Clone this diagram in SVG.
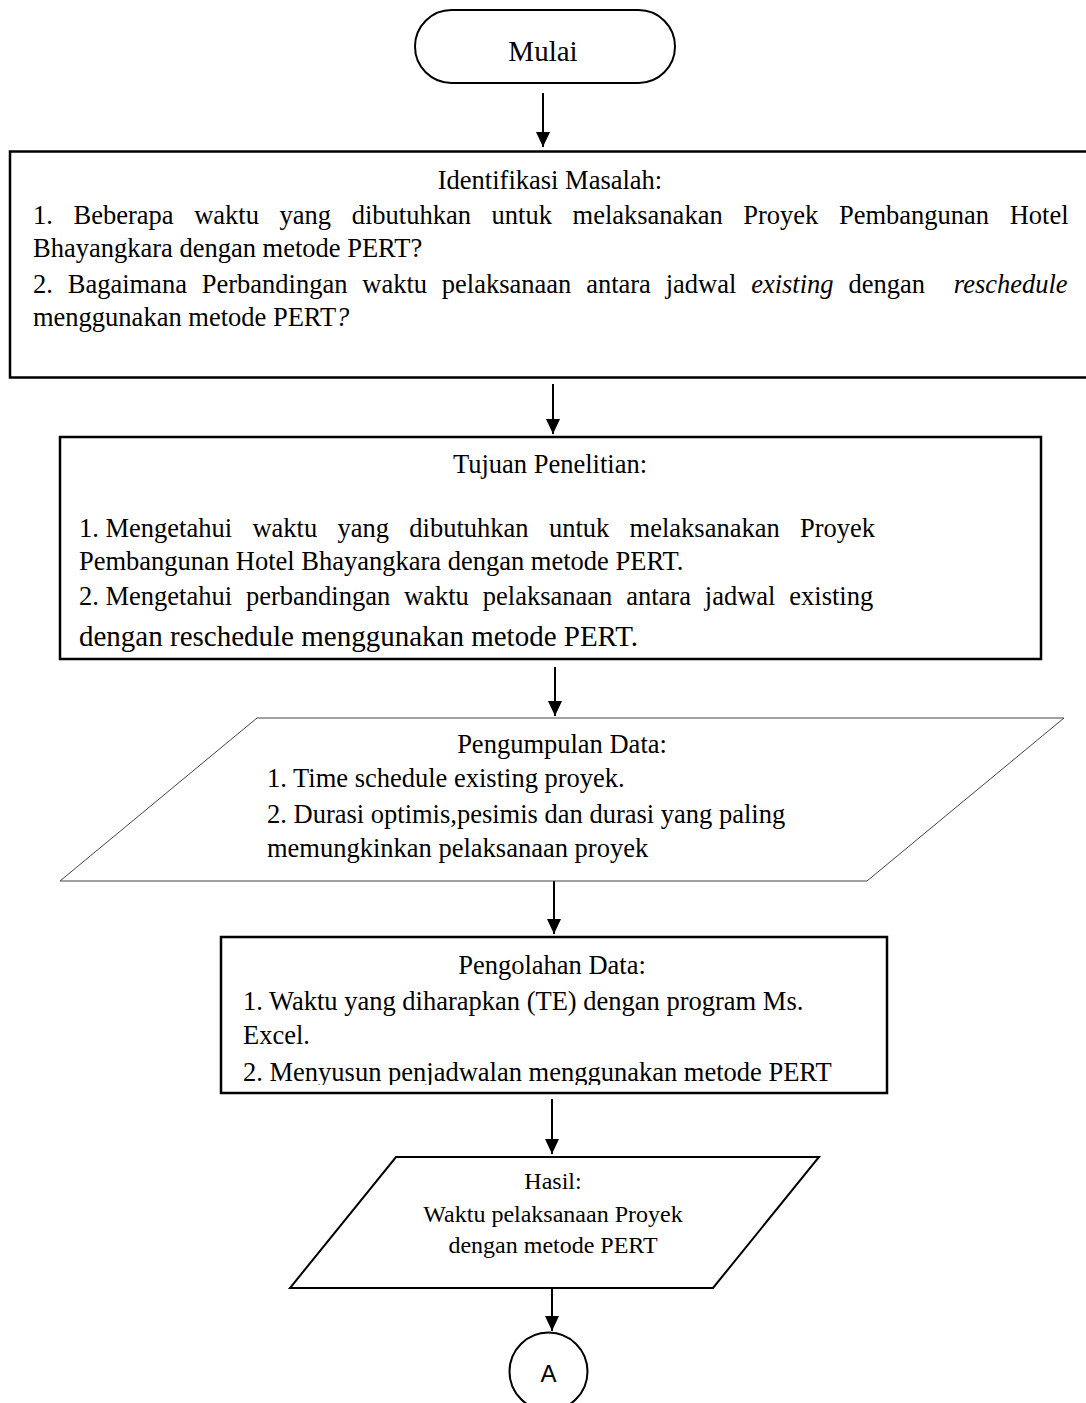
<svg xmlns="http://www.w3.org/2000/svg" width="1086" height="1403" viewBox="0 0 1086 1403">
  <style>
    .t { font-family: "Liberation Serif", "Times New Roman", serif; font-size: 26.5px; fill: #000; }
    .c { text-anchor: middle; }
    .i { font-style: italic; }
    .box { fill: #fff; stroke: #000; stroke-width: 2.5; }
    .thin { fill: #fff; stroke: #444; stroke-width: 1; }
    .med { fill: #fff; stroke: #000; stroke-width: 2; }
    .conn line { stroke: #000; stroke-width: 2; marker-end: url(#arrow); }
  </style>
  <defs>
    <!-- filled arrowhead, drawn pointing along the line direction -->
    <marker id="arrow" markerUnits="userSpaceOnUse" markerWidth="15" markerHeight="14" viewBox="0 0 15 14" refX="15" refY="7" orient="auto">
      <path d="M0,0 L15,7 L0,14 Z" fill="#000"/>
    </marker>
    <clipPath id="clipOlah">
      <rect x="221" y="937" width="666" height="148"/>
    </clipPath>
  </defs>

  <rect width="1086" height="1403" fill="#fff"/>

  <!-- connectors -->
  <g id="connectors" class="conn">
    <line x1="543" y1="93" x2="543" y2="147"/>
    <line x1="553" y1="384" x2="553" y2="434"/>
    <line x1="555" y1="667" x2="555" y2="716"/>
    <line x1="554" y1="881" x2="554" y2="934"/>
    <line x1="552" y1="1099" x2="552" y2="1154"/>
    <line x1="552" y1="1288" x2="552" y2="1331"/>
  </g>

  <!-- start terminal -->
  <g id="mulai">
    <rect x="415" y="10" width="260" height="73" rx="36.5" ry="36.5" class="med"/>
    <text x="543" y="61" class="t c" style="font-size:29px">Mulai</text>
  </g>

  <!-- problem identification -->
  <g id="identifikasi">
    <rect x="10" y="151.5" width="1090" height="226" class="box"/>
    <text x="550" y="189" class="t c">Identifikasi Masalah:</text>
    <text x="33" y="224" class="t" style="word-spacing:14px">1. Beberapa waktu yang dibutuhkan untuk melaksanakan Proyek Pembangunan Hotel</text>
    <text x="33" y="257" class="t">Bhayangkara dengan metode PERT?</text>
    <text x="33" y="293" class="t" style="word-spacing:8.2px">2. Bagaimana Perbandingan waktu pelaksanaan antara jadwal <tspan class="i">existing</tspan> dengan <tspan class="i" dx="14">reschedule</tspan></text>
    <text x="33" y="326" class="t">menggunakan metode PERT<tspan class="i">?</tspan></text>
  </g>

  <!-- research objectives -->
  <g id="tujuan">
    <rect x="60" y="437" width="981" height="222" class="box"/>
    <text x="550" y="473" class="t c">Tujuan Penelitian:</text>
    <text y="537" class="t"><tspan x="79">1. Mengetahui</tspan><tspan x="252.4">waktu</tspan><tspan x="337.5">yang</tspan><tspan x="409.3">dibutuhkan</tspan><tspan x="548.9">untuk</tspan><tspan x="629.6">melaksanakan</tspan><tspan x="800">Proyek</tspan></text>
    <text x="79" y="570" class="t">Pembangunan Hotel Bhayangkara dengan metode PERT.</text>
    <text y="605" class="t"><tspan x="79">2. Mengetahui</tspan><tspan x="246">perbandingan</tspan><tspan x="404.1">waktu</tspan><tspan x="482.8">pelaksanaan</tspan><tspan x="626.2">antara</tspan><tspan x="704.8">jadwal</tspan><tspan x="789.3">existing</tspan></text>
    <text x="79" y="646" class="t" style="font-size:29px">dengan reschedule menggunakan metode PERT.</text>
  </g>

  <!-- data collection (input) -->
  <g id="pengumpulan">
    <polygon points="257,718 1064,718 867,881 60,881" class="thin"/>
    <text x="562" y="753" class="t c">Pengumpulan Data:</text>
    <text x="267" y="787" class="t">1. Time schedule existing proyek.</text>
    <text x="267" y="823" class="t">2. Durasi optimis,pesimis dan durasi yang paling</text>
    <text x="267" y="857" class="t">memungkinkan pelaksanaan proyek</text>
  </g>

  <!-- data processing -->
  <g id="pengolahan">
    <rect x="221" y="937" width="666" height="156" class="box"/>
    <text x="552" y="974" class="t c">Pengolahan Data:</text>
    <text x="243" y="1010" class="t">1. Waktu yang diharapkan (TE) dengan program Ms.</text>
    <text x="243" y="1044" class="t">Excel.</text>
    <text x="243" y="1081" class="t" clip-path="url(#clipOlah)">2. Menyusun penjadwalan menggunakan metode PERT</text>
  </g>

  <!-- result (output) -->
  <g id="hasil">
    <polygon points="396,1157 819,1157 713,1288 290,1288" class="med"/>
    <text x="553" y="1189" class="t c" style="font-size:24px">Hasil:</text>
    <text x="553" y="1222" class="t c" style="font-size:24px">Waktu pelaksanaan Proyek</text>
    <text x="553" y="1253" class="t c" style="font-size:24px">dengan metode PERT</text>
  </g>

  <!-- off-page connector -->
  <g id="konektor-a">
    <circle cx="548.5" cy="1371.5" r="39" class="med"/>
    <text x="548.5" y="1382" text-anchor="middle" style="font-family:'Liberation Sans', Arial, sans-serif; font-size:24px">A</text>
  </g>
</svg>
